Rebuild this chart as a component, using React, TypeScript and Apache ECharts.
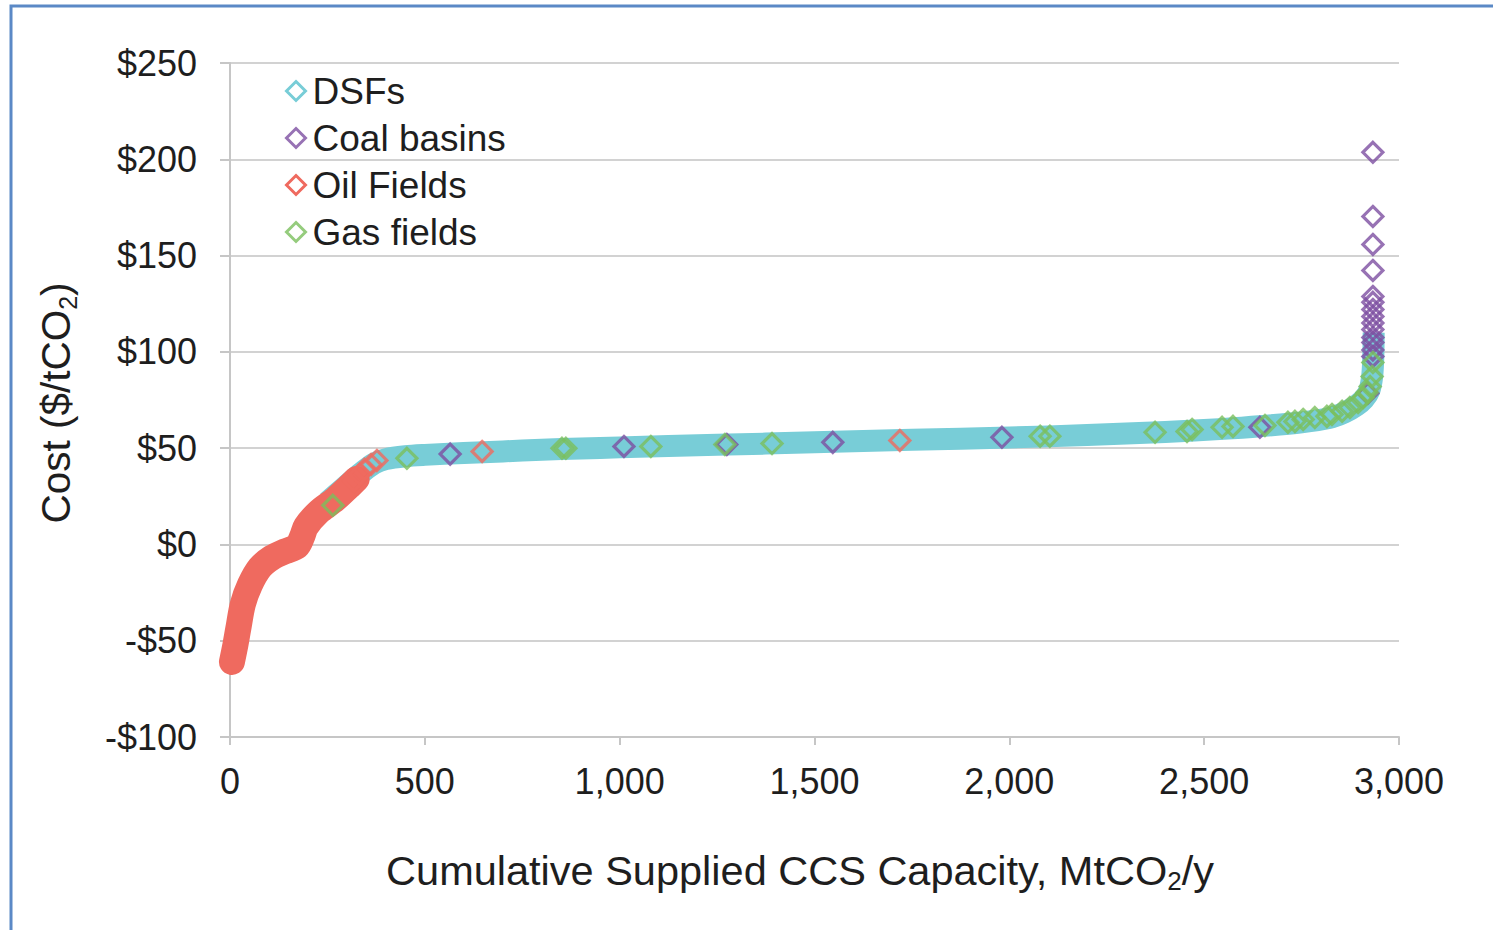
import React, { useEffect, useRef } from "react";
import * as echarts from "echarts";

const FONT = "'Liberation Sans', Arial, sans-serif";

const seriesNames = ["DSFs", "Coal basins", "Oil Fields", "Gas fields"];
const seriesColors = ["#78CDD7", "#7D4FA1", "#EF6A5F", "#7BBF5C"];

const xTicks = [0, 500, 1000, 1500, 2000, 2500, 3000];
const yTicks = [-100, -50, 0, 50, 100, 150, 200, 250];

// dense DSF supply points (drawn as a continuous band)
const dsfBand: number[][] = [
  [250, 22], [290, 29], [330, 36], [370, 42], [400, 44.3], [450, 45.8], [500, 46.5],
  [600, 47.5], [700, 48.3], [800, 49.2], [900, 49.8], [1000, 50.4], [1250, 51.7],
  [1500, 53], [1750, 54.3], [2000, 55.5], [2200, 56.8], [2400, 58.4], [2550, 60],
  [2650, 61.5], [2750, 63.4], [2820, 65.6], [2860, 68.5], [2890, 72], [2910, 75.5],
  [2924, 80], [2931, 87], [2934, 97], [2935, 110],
];

// dense oil field supply points (drawn as a continuous band)
const oilBand: number[][] = [
  [5, -61], [14, -52], [21, -44], [33, -31], [51, -21], [77, -12], [108, -6.8],
  [141, -3.6], [172, -1], [185, 4], [195, 9.3], [226, 16.6], [270, 23.4],
  [303, 29.6], [325, 34],
];

const oilPoints: number[][] = [
  [318, 33], [333, 36.5], [345, 39], [362, 41.5], [377, 43.6], [647, 48.3], [1719, 54],
];

const coalPoints: number[][] = [
  [565, 46.9], [1011, 50.9], [1275, 51.9], [1547, 53], [1981, 55.6], [2643, 60.8],
  [2920, 78.5], [2933, 97.6], [2933, 101], [2933, 104.9], [2933, 107.5], [2933, 111.6],
  [2933, 115], [2933, 118.4], [2933, 122], [2933, 125.7], [2933, 128.8],
  [2933, 142.3], [2933, 155.8], [2933, 170.3], [2933, 203.6],
];

const gasPoints: number[][] = [
  [264, 20.3], [454, 44.7], [852, 49.9], [862, 49.9], [1080, 50.9], [1270, 51.9],
  [1391, 52.4], [2079, 56.2], [2104, 56.2], [2374, 58.2], [2456, 58.7], [2469, 59.7],
  [2546, 60.8], [2574, 61.3], [2656, 61.8], [2715, 63.4], [2733, 63.9], [2754, 64.9],
  [2784, 65.9], [2815, 66.5], [2828, 67.5], [2854, 69.1], [2874, 71.1], [2895, 73.7],
  [2908, 76.3], [2918, 78.9], [2926, 82], [2931, 87.2], [2933, 94.5],
];

const xTitle = "Cumulative Supplied CCS Capacity, MtCO{sub|2}/y";
const yTitle = "Cost ($/tCO{sub|2})";

export default function App() {
  const ref = useRef<HTMLDivElement>(null);

  useEffect(() => {
    if (!ref.current) return;
    const chart = echarts.init(ref.current, undefined, { renderer: "svg" });

    const scatterBase = (i: number, data: number[][]) => ({
      name: seriesNames[i],
      type: "scatter",
      data,
      z: 5,
      symbol: "diamond",
      symbolSize: 20,
      itemStyle: { color: "rgba(255,255,255,0)", borderColor: seriesColors[i], borderWidth: 3.2 },
      emphasis: { disabled: true },
    });

    const titleRich = (size: number) => ({
      sub: { fontSize: size, verticalAlign: "bottom", lineHeight: 20, fontFamily: FONT, fill: "#1e1e1e" },
    });

    chart.setOption({
      animation: false,
      backgroundColor: "#ffffff",
      grid: { left: 230, right: 94, top: 63, bottom: 193, containLabel: false },
      legend: {
        orient: "vertical",
        left: 280,
        top: 66,
        itemWidth: 19,
        itemHeight: 19,
        itemGap: 7,
        selectedMode: false,
        textStyle: { fontSize: 37, color: "#1e1e1e", fontFamily: FONT, lineHeight: 40, padding: [0, 0, 0, 2] },
        data: seriesNames.map((n, i) => ({
          name: n,
          icon: "diamond",
          itemStyle: { color: "rgba(255,255,255,0)", borderColor: seriesColors[i], borderWidth: 3 },
        })),
      },
      xAxis: {
        type: "value",
        min: xTicks[0],
        max: xTicks[xTicks.length - 1],
        interval: 500,
        axisLine: { show: true, onZero: false, lineStyle: { color: "#c6c6c6", width: 2 } },
        axisTick: { show: true, length: 8, lineStyle: { color: "#c6c6c6", width: 2 } },
        splitLine: { show: false },
        axisLabel: {
          fontSize: 36,
          color: "#1e1e1e",
          fontFamily: FONT,
          margin: 26,
          formatter: (v: number) => v.toLocaleString("en-US"),
        },
      },
      yAxis: {
        type: "value",
        min: yTicks[0],
        max: yTicks[yTicks.length - 1],
        interval: 50,
        axisLine: { show: true, onZero: false, lineStyle: { color: "#c6c6c6", width: 2 } },
        axisTick: { show: true, length: 10, lineStyle: { color: "#c6c6c6", width: 2 } },
        splitLine: { show: true, lineStyle: { color: "#d2d2d2", width: 2 } },
        axisLabel: {
          fontSize: 36,
          color: "#1e1e1e",
          fontFamily: FONT,
          margin: 33,
          formatter: (v: number) => (v < 0 ? "-$" + Math.abs(v) : "$" + v),
        },
      },
      graphic: [
        {
          type: "rect",
          silent: true,
          shape: { x: 11, y: 6, width: 1700, height: 1200 },
          style: { fill: "none", stroke: "#5B89C6", lineWidth: 3 },
          z: 100,
        },
        {
          type: "text",
          silent: true,
          x: 800,
          y: 870,
          style: {
            text: xTitle,
            fontSize: 41.5,
            lineHeight: 48,
            fontFamily: FONT,
            fill: "#1e1e1e",
            align: "center",
            verticalAlign: "middle",
            rich: titleRich(26),
          },
        },
        {
          type: "text",
          silent: true,
          x: 56,
          y: 403,
          rotation: Math.PI / 2,
          style: {
            text: yTitle,
            fontSize: 40.5,
            lineHeight: 48,
            fontFamily: FONT,
            fill: "#1e1e1e",
            align: "center",
            verticalAlign: "middle",
            rich: titleRich(25),
          },
        },
      ],
      series: [
        {
          name: "DSFs",
          type: "line",
          z: 1,
          data: dsfBand,
          showSymbol: false,
          symbol: "diamond",
          smooth: 0.3,
          itemStyle: { color: seriesColors[0] },
          lineStyle: { color: seriesColors[0], width: 22, join: "round", cap: "butt" },
          emphasis: { disabled: true },
        },
        scatterBase(1, coalPoints),
        {
          name: "Oil Fields",
          type: "line",
          z: 2,
          data: oilBand,
          showSymbol: false,
          symbol: "diamond",
          smooth: 0.3,
          itemStyle: { color: seriesColors[2] },
          lineStyle: { color: seriesColors[2], width: 26, join: "round", cap: "round" },
          emphasis: { disabled: true },
        },
        scatterBase(2, oilPoints),
        scatterBase(3, gasPoints),
      ],
    });

    return () => chart.dispose();
  }, []);

  return (
    <div
      ref={ref}
      style={{ position: "absolute", left: 0, top: 0, width: 1493, height: 930 }}
    />
  );
}
